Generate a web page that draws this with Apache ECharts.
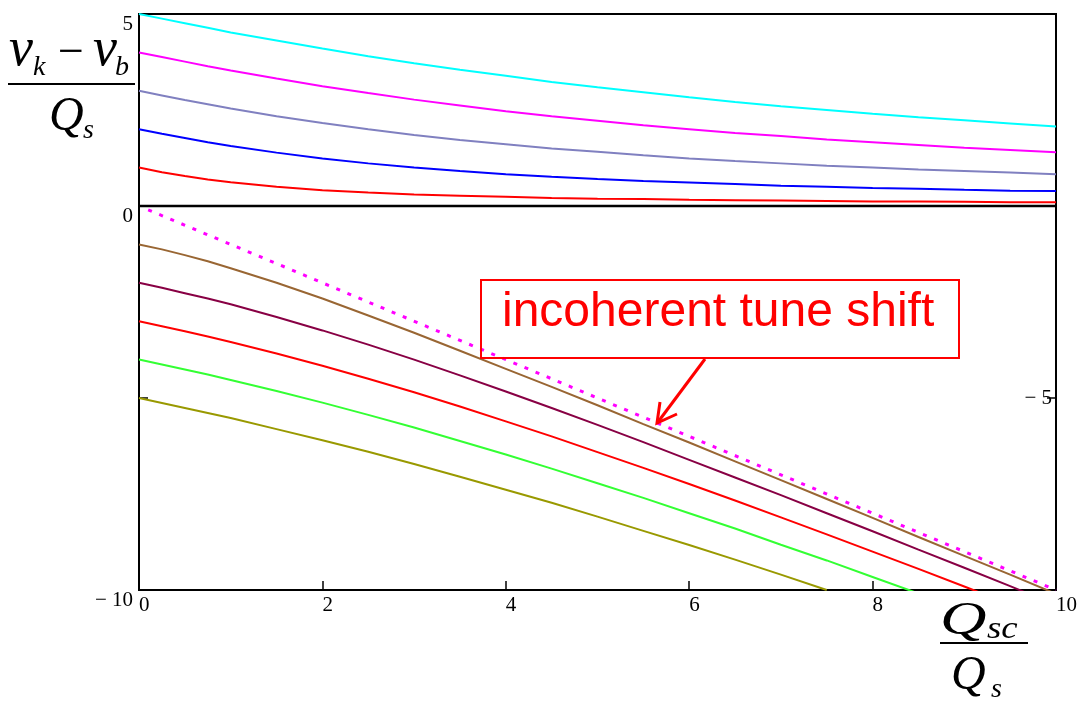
<!DOCTYPE html>
<html>
<head>
<meta charset="utf-8">
<script src="https://cdn.jsdelivr.net/npm/echarts@6/dist/echarts.min.js"></script>
<style>
  html, body { margin: 0; padding: 0; background: #fff; }
  #chart { width: 1080px; height: 702px; }
</style>
</head>
<body>
<div id="chart"></div>
<script>
// Space-charge parameter Q_sc/Q_s (horizontal axis samples)
const qsc = [0, 0.25, 0.5, 0.75, 1, 1.5, 2, 2.5, 3, 3.5, 4, 4.5, 5, 5.5, 6, 6.5, 7, 7.5, 8, 8.5, 9, 9.5, 10];

// Positive modes k = 1..5
const kPos1 = [1, 0.88, 0.78, 0.69, 0.62, 0.50, 0.41, 0.35, 0.30, 0.27, 0.24, 0.21, 0.19, 0.18, 0.16, 0.15, 0.14, 0.13, 0.12, 0.12, 0.11, 0.10, 0.10];
const kPos2 = [2, 1.88, 1.77, 1.66, 1.56, 1.39, 1.24, 1.11, 1.00, 0.91, 0.83, 0.76, 0.70, 0.65, 0.61, 0.57, 0.53, 0.50, 0.47, 0.45, 0.42, 0.40, 0.39];
const kPos3 = [3, 2.88, 2.76, 2.65, 2.54, 2.34, 2.16, 2.00, 1.85, 1.72, 1.61, 1.50, 1.41, 1.32, 1.24, 1.17, 1.11, 1.05, 1.00, 0.95, 0.91, 0.87, 0.83];
const kPos4 = [4, 3.88, 3.76, 3.64, 3.53, 3.32, 3.12, 2.94, 2.77, 2.62, 2.47, 2.34, 2.22, 2.10, 2.00, 1.90, 1.82, 1.73, 1.66, 1.59, 1.52, 1.46, 1.40];
const kPos5 = [5, 4.88, 4.76, 4.64, 4.52, 4.31, 4.10, 3.90, 3.72, 3.55, 3.39, 3.23, 3.09, 2.96, 2.83, 2.71, 2.60, 2.50, 2.40, 2.31, 2.23, 2.15, 2.07];

// Negative modes k = -1..-5 (run off the bottom of the plot)
const kNeg1 = [-1, -1.13, -1.28, -1.44, -1.62, -2.00, -2.41, -2.85, -3.30, -3.77, -4.24, -4.71, -5.19, -5.68, -6.16, -6.65, -7.14, -7.63, -8.12, -8.62, -9.11, -9.60, -10.10];
const kNeg2 = [-2, -2.13, -2.27, -2.41, -2.56, -2.89, -3.24, -3.61, -4.00, -4.41, -4.83, -5.26, -5.70, -6.15, -6.61, -7.07, -7.53, -8.00, -8.47, -8.95, -9.42, -9.90, -10.39];
const kNeg3 = [-3, -3.13, -3.26, -3.40, -3.54, -3.84, -4.16, -4.50, -4.85, -5.22, -5.61, -6.00, -6.41, -6.82, -7.24, -7.67, -8.11, -8.55, -9.00, -9.45, -9.91, -10.37];
const kNeg4 = [-4, -4.13, -4.26, -4.39, -4.53, -4.82, -5.12, -5.44, -5.77, -6.12, -6.47, -6.84, -7.22, -7.60, -8.00, -8.40, -8.82, -9.23, -9.66, -10.09];
const kNeg5 = [-5, -5.13, -5.26, -5.39, -5.52, -5.81, -6.10, -6.40, -6.72, -7.05, -7.39, -7.73, -8.09, -8.46, -8.83, -9.21, -9.60, -10.00];

// Incoherent tune shift (dotted)
const incoX = [0.1, 10];
const incoY = [-0.1, -10];

// Zero reference line
const zeroX = [0, 10];
const zeroY = [0, 0];

// Axis ranges / ticks
const xTicks = { min: 0, max: 10, step: 2 };
const yTicks = { min: -10, max: 5, step: 5 };

const pairs = (xs, ys) => ys.map((y, i) => [xs[i], y]);

const curve = (ys, color) => ({
  type: 'line',
  data: pairs(qsc, ys),
  showSymbol: false,
  symbol: 'none',
  silent: true,
  clip: true,
  lineStyle: { color: color, width: 2 },
  z: 3
});

const fmtNum = v => (v < 0 ? '\u2212 ' + Math.abs(v) : String(v));
const serif = '"Liberation Serif", "Times New Roman", serif';

// Math-style text placed by its baseline; sx widens the glyphs
function mtext(str, x, baseline, size, italic, sx) {
  return {
    type: 'text',
    x: x,
    y: baseline - 0.34 * size,
    scaleX: sx || 1,
    originX: 0,
    originY: 0,
    style: {
      text: str,
      font: (italic ? 'italic ' : '') + size + 'px ' + serif,
      fill: '#000',
      align: 'left',
      verticalAlign: 'middle'
    },
    silent: true
  };
}

const chart = echarts.init(document.getElementById('chart'), null, { renderer: 'canvas' });

chart.setOption({
  animation: false,
  backgroundColor: '#fff',
  grid: {
    left: 139, top: 14, right: 21, bottom: 112,
    show: true, borderColor: '#000', borderWidth: 2, backgroundColor: 'transparent'
  },
  xAxis: {
    type: 'value',
    min: xTicks.min, max: xTicks.max, interval: xTicks.step,
    axisLine: { show: true, onZero: false, lineStyle: { color: '#000', width: 2 } },
    axisTick: { show: true, inside: true, length: 9, lineStyle: { color: '#000', width: 1.5 } },
    axisLabel: {
      show: true, align: 'left', margin: 5,
      fontFamily: serif, fontSize: 21, color: '#000',
      showMinLabel: true, showMaxLabel: true
    },
    splitLine: { show: false }
  },
  yAxis: [
    {
      type: 'value', position: 'left',
      min: yTicks.min, max: yTicks.max, interval: yTicks.step,
      axisLine: { show: true, onZero: false, lineStyle: { color: '#000', width: 2 } },
      axisTick: { show: true, inside: true, length: 9, lineStyle: { color: '#000', width: 1.5 } },
      axisLabel: {
        show: true, margin: 6, verticalAlign: 'top',
        fontFamily: serif, fontSize: 21, color: '#000',
        formatter: v => (v === -5 ? '' : fmtNum(v))
      },
      splitLine: { show: false }
    },
    {
      type: 'value', position: 'right',
      min: yTicks.min, max: yTicks.max, interval: yTicks.step,
      axisLine: { show: true, onZero: false, lineStyle: { color: '#000', width: 2 } },
      axisTick: { show: true, inside: true, length: 9, lineStyle: { color: '#000', width: 1.5 } },
      axisLabel: {
        show: true, inside: true, margin: 4, verticalAlign: 'middle',
        fontFamily: serif, fontSize: 21, color: '#000',
        formatter: v => (v === -5 ? fmtNum(v) : '')
      },
      splitLine: { show: false }
    }
  ],
  series: [
    {
      type: 'line', data: pairs(zeroX, zeroY), symbol: 'none', silent: true,
      lineStyle: { color: '#000', width: 2.5 }, z: 2
    },
    curve(kPos1, '#ff0000'),
    curve(kPos2, '#0000ff'),
    curve(kPos3, '#8080c0'),
    curve(kPos4, '#ff00ff'),
    curve(kPos5, '#00ffff'),
    curve(kNeg1, '#996633'),
    curve(kNeg2, '#880044'),
    curve(kNeg3, '#ff0000'),
    curve(kNeg4, '#33ff33'),
    curve(kNeg5, '#999900'),
    {
      type: 'line', data: pairs(incoX, incoY), symbol: 'none', silent: true, clip: true,
      lineStyle: { color: '#ff00ff', width: 3, type: [4, 8] }, z: 4
    }
  ],
  graphic: [
    // vertical axis title: (nu_k - nu_b) / Q_s
    mtext('\u03BD', 9, 69, 54, true),
    mtext('k', 33, 77, 28, true),
    mtext('\u2212', 58, 70, 46, false),
    mtext('\u03BD', 93, 69, 54, true),
    mtext('b', 115, 77, 28, true),
    { type: 'line', silent: true, shape: { x1: 8, y1: 84, x2: 135, y2: 84 }, style: { stroke: '#000', lineWidth: 2 } },
    mtext('Q', 49, 134, 48, true),
    mtext('s', 83, 140, 28, true),

    // horizontal axis title: Q_sc / Q_s
    mtext('Q', 940, 638, 46, true, 1.4),
    mtext('sc', 987, 640, 32, true, 1.15),
    { type: 'line', silent: true, shape: { x1: 940, y1: 643, x2: 1028, y2: 643 }, style: { stroke: '#000', lineWidth: 2 } },
    mtext('Q', 951, 693, 48, true),
    mtext('s', 991, 699, 28, true),

    // annotation box with arrow
    {
      type: 'rect', silent: true, z: 10,
      shape: { x: 481, y: 280, width: 478, height: 78 },
      style: { fill: 'none', stroke: '#ff0000', lineWidth: 2 }
    },
    {
      type: 'text', silent: true, z: 11,
      x: 502, y: 337,
      style: {
        text: 'incoherent tune shift',
        font: '48px "Liberation Sans", Arial, sans-serif',
        fill: '#ff0000', align: 'left', verticalAlign: 'bottom'
      }
    },
    {
      type: 'line', silent: true, z: 10,
      shape: { x1: 705, y1: 359, x2: 658, y2: 422 },
      style: { stroke: '#ff0000', lineWidth: 3 }
    },
    {
      type: 'polyline', silent: true, z: 10,
      shape: { points: [[660, 402], [657, 423], [677, 414]] },
      style: { stroke: '#ff0000', lineWidth: 3, fill: 'none' }
    }
  ]
});
</script>
</body>
</html>
